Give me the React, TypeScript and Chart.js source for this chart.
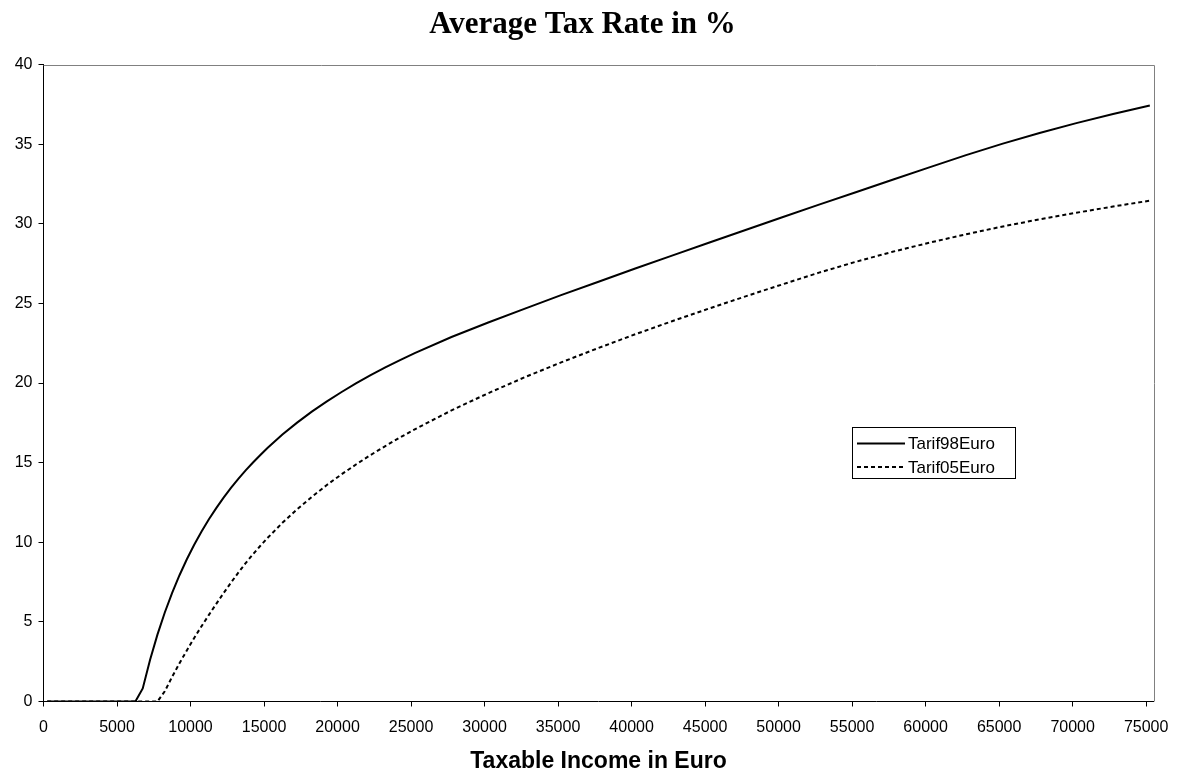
import React, { useEffect, useRef } from "react";
import { Chart, registerables } from "chart.js";

Chart.register(...registerables);

// Taxable income categories (Euro)
const incomes = [
  0, 5000, 5500, 6000, 6500, 7000, 7500, 8000, 8500, 9000, 9500, 10000, 10500, 11000, 11500,
  12000, 12500, 13000, 13500, 14000, 14500, 15000, 16000, 17000, 18000, 19000, 20000, 21000,
  22000, 23000, 24000, 25000, 27500, 30000, 32500, 35000, 37500, 40000, 42500, 45000, 47500,
  50000, 52500, 55000, 57500, 60000, 62500, 65000, 67500, 70000, 72500, 75000,
];

// Average tax rate in %, tariff 1998 (converted to Euro)
const tarif98Euro = [
  0, 0, 0, 0, 0.82, 2.62, 4.2, 5.59, 6.82, 7.93, 8.93, 9.84, 10.67, 11.44, 12.14,
  12.8, 13.41, 13.98, 14.51, 15.01, 15.48, 15.93, 16.76, 17.51, 18.2, 18.83, 19.42, 19.97,
  20.49, 20.98, 21.44, 21.88, 22.89, 23.8, 24.67, 25.53, 26.36, 27.19, 28.0, 28.81, 29.61,
  30.41, 31.2, 31.98, 32.76, 33.54, 34.31, 35.03, 35.7, 36.32, 36.89, 37.43,
];

// Average tax rate in %, tariff 2005
const tarif05Euro = [
  0, 0, 0, 0, 0, 0, 0, 0.64, 1.55, 2.4, 3.21, 3.99, 4.73, 5.44, 6.13,
  6.81, 7.46, 8.09, 8.69, 9.25, 9.78, 10.28, 11.22, 12.07, 12.85, 13.58, 14.25, 14.88,
  15.48, 16.04, 16.58, 17.09, 18.28, 19.36, 20.37, 21.31, 22.2, 23.06, 23.88, 24.67, 25.44,
  26.19, 26.93, 27.61, 28.24, 28.81, 29.34, 29.83, 30.28, 30.69, 31.08, 31.45,
];

const seriesNames = ["Tarif98Euro", "Tarif05Euro"];
const chartTitle = "Average Tax Rate in %";
const xAxisTitle = "Taxable Income in Euro";
const xTickValues = [
  0, 5000, 10000, 15000, 20000, 25000, 30000, 35000, 40000, 45000, 50000, 55000, 60000, 65000,
  70000, 75000,
];
const yTickValues = [0, 5, 10, 15, 20, 25, 30, 35, 40];
const xAxisMax = 75500;
const yAxisMax = 40;
const categoryHalfSlot = 250;

const SANS = '"Liberation Sans", Arial, sans-serif';
const SERIF = '"Liberation Serif", "Times New Roman", serif';

const framePlugin = {
  id: "frame",
  beforeDatasetsDraw(chart: any) {
    const { ctx, chartArea } = chart;
    const { left, top, right, bottom } = chartArea;
    ctx.save();
    ctx.strokeStyle = "#808080";
    ctx.lineWidth = 1;
    ctx.beginPath();
    const t = Math.round(top) + 0.5;
    const r = Math.round(right) + 0.5;
    ctx.moveTo(left, t);
    ctx.lineTo(r, t);
    ctx.lineTo(r, bottom);
    ctx.stroke();
    ctx.restore();
  },
};

const titlePlugin = {
  id: "customTitle",
  afterDraw(chart: any) {
    const { ctx } = chart;
    ctx.save();
    ctx.fillStyle = "#000";
    ctx.font = `bold 31px ${SERIF}`;
    ctx.textAlign = "center";
    ctx.textBaseline = "alphabetic";
    ctx.fillText(chartTitle, 582.5, 32.5);
    ctx.restore();
  },
};

const legendPlugin = {
  id: "boxLegend",
  afterDraw(chart: any) {
    const { ctx } = chart;
    const bx = 852.5;
    const by = 427.5;
    const bw = 163;
    const bh = 51;
    ctx.save();
    ctx.fillStyle = "#fff";
    ctx.fillRect(bx, by, bw, bh);
    ctx.strokeStyle = "#000";
    ctx.lineWidth = 1;
    ctx.strokeRect(bx, by, bw, bh);
    const rows = [443.5, 467];
    chart.data.datasets.forEach((ds: any, i: number) => {
      const y = rows[i];
      ctx.beginPath();
      ctx.strokeStyle = ds.borderColor;
      ctx.lineWidth = ds.borderWidth;
      ctx.setLineDash(ds.borderDash || []);
      ctx.moveTo(857, y);
      ctx.lineTo(905, y);
      ctx.stroke();
      ctx.setLineDash([]);
      ctx.fillStyle = "#000";
      ctx.font = `17px ${SANS}`;
      ctx.textAlign = "left";
      ctx.textBaseline = "middle";
      ctx.fillText(ds.label, 908, y + 1);
    });
    ctx.restore();
  },
};

export default function App() {
  const ref = useRef<HTMLCanvasElement>(null);

  useEffect(() => {
    document.body.style.margin = "0";
    if (!ref.current) return;
    const toPts = (vals: number[]) => incomes.map((x, i) => ({ x, y: vals[i] }));
    const chart = new Chart(ref.current, {
      type: "line",
      data: {
        datasets: [
          {
            label: seriesNames[0],
            data: toPts(tarif98Euro),
            borderColor: "#000",
            borderWidth: 2,
            pointRadius: 0,
            tension: 0,
            fill: false,
            xAxisID: "xd",
          },
          {
            label: seriesNames[1],
            data: toPts(tarif05Euro),
            borderColor: "#000",
            borderWidth: 2,
            borderDash: [4, 3],
            pointRadius: 0,
            tension: 0,
            fill: false,
            xAxisID: "xd",
          },
        ],
      },
      options: {
        animation: false,
        responsive: false,
        devicePixelRatio: 1,
        layout: { padding: { left: 0, top: 64.5, right: 26.5, bottom: 0 } },
        plugins: {
          legend: { display: false },
          title: { display: false },
          tooltip: { enabled: false },
        },
        scales: {
          x: {
            type: "linear",
            position: "bottom",
            min: 0,
            max: xAxisMax,
            afterBuildTicks: (s: any) => {
              s.ticks = xTickValues.map((value) => ({ value }));
            },
            ticks: {
              autoSkip: false,
              maxRotation: 0,
              color: "#000",
              padding: 11,
              font: { family: SANS, size: 16 },
              callback: (v: any) => String(v),
            },
            grid: { drawOnChartArea: false, drawTicks: true, tickLength: 5, color: "#000" },
            border: { display: true, color: "#000", width: 1 },
            title: {
              display: true,
              text: xAxisTitle,
              color: "#000",
              font: { family: SANS, size: 23, weight: "bold", lineHeight: 1 },
              padding: { top: 0, bottom: 0 },
            },
            afterFit: (s: any) => {
              s.height = 71.5;
            },
          },
          xd: {
            type: "linear",
            display: false,
            min: -categoryHalfSlot,
            max: xAxisMax - categoryHalfSlot,
          },
          y: {
            type: "linear",
            min: 0,
            max: yAxisMax,
            afterBuildTicks: (s: any) => {
              s.ticks = yTickValues.map((value) => ({ value }));
            },
            ticks: {
              color: "#000",
              padding: 6,
              font: { family: SANS, size: 16 },
            },
            grid: { drawOnChartArea: false, drawTicks: true, tickLength: 5, color: "#000" },
            border: { display: true, color: "#000", width: 1 },
            afterFit: (s: any) => {
              s.width = 43.5;
            },
          },
        },
      } as any,
      plugins: [framePlugin, titlePlugin, legendPlugin],
    });
    return () => chart.destroy();
  }, []);

  return (
    <div style={{ position: "absolute", left: 0, top: 0, width: 1180, height: 773, background: "#fff" }}>
      <canvas ref={ref} width={1180} height={773} />
    </div>
  );
}
